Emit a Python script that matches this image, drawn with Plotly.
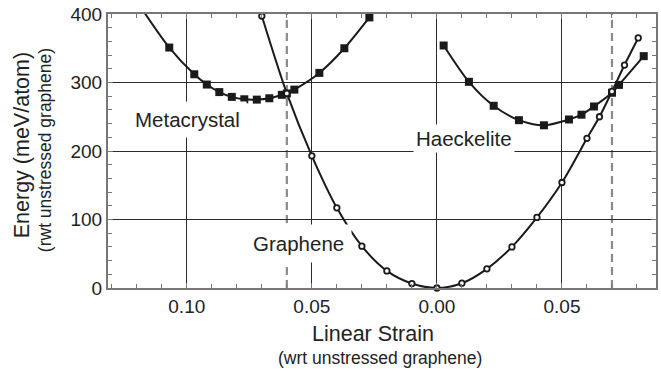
import plotly.graph_objects as go

# ---- data ----
meta_strain = [-0.107, -0.097, -0.092, -0.087, -0.082, -0.077, -0.072, -0.067,
               -0.062, -0.060, -0.057, -0.047, -0.037, -0.027]
meta_energy = [351, 312, 297, 286, 279, 275.5, 275, 277, 282, 284, 289.6, 314, 350, 395]
meta_end_strain = [-0.1175, -0.0245]
meta_end_energy = [405, 407]

graph_strain = [-0.07, -0.06, -0.05, -0.04, -0.03, -0.02, -0.01, 0.0, 0.01, 0.02,
                0.03, 0.04, 0.05, 0.06, 0.065, 0.07, 0.075, 0.0805]
graph_energy = [397, 284, 193, 117, 61, 25, 6.5, 0, 7, 28, 60, 103, 154, 218.5,
                250, 287, 325.5, 365]

haeck_strain = [0.0027, 0.0128, 0.0227, 0.0328, 0.0428, 0.0528, 0.0578, 0.0628,
                0.070, 0.0728, 0.0827]
haeck_energy = [354, 301, 266, 245, 237.5, 246, 253, 265, 285, 296.5, 338.5]

crossing_strains = [-0.06, 0.07]

x_tickvals = [-0.10, -0.05, 0.00, 0.05]
x_ticktext = ["0.10", "0.05", "0.00", "0.05"]
y_tickvals = [0, 100, 200, 300, 400]

labels = [("Metacrystal", -0.0997, 246, 6),
          ("Haeckelite", 0.0110, 218.5, 2),
          ("Graphene", -0.0552, 65, 7)]

INK = "#1a1a1a"
FONT = "Liberation Sans, Arial, Helvetica, sans-serif"

fig = go.Figure()

# Metacrystal
fig.add_trace(go.Scatter(
    x=[meta_end_strain[0]] + meta_strain + [meta_end_strain[1]],
    y=[meta_end_energy[0]] + meta_energy + [meta_end_energy[1]],
    mode="lines", line=dict(color=INK, width=2, shape="spline", smoothing=0.8),
    showlegend=False, hoverinfo="skip"))
fig.add_trace(go.Scatter(x=meta_strain, y=meta_energy, mode="markers",
                         marker=dict(symbol="square", size=8, color=INK),
                         cliponaxis=False, showlegend=False))
# Haeckelite
fig.add_trace(go.Scatter(x=haeck_strain, y=haeck_energy, mode="lines",
                         line=dict(color=INK, width=2, shape="spline", smoothing=0.8),
                         showlegend=False, hoverinfo="skip"))
fig.add_trace(go.Scatter(x=haeck_strain, y=haeck_energy, mode="markers",
                         marker=dict(symbol="square", size=8, color=INK),
                         cliponaxis=False, showlegend=False))
# Graphene
fig.add_trace(go.Scatter(x=graph_strain, y=graph_energy, mode="lines",
                         line=dict(color=INK, width=2, shape="spline", smoothing=0.8),
                         showlegend=False, hoverinfo="skip"))
fig.add_trace(go.Scatter(x=graph_strain, y=graph_energy, mode="markers",
                         marker=dict(symbol="circle", size=5.5, color="white",
                                     line=dict(color=INK, width=1.8)),
                         cliponaxis=False, showlegend=False))

for xs in crossing_strains:
    fig.add_shape(type="line", x0=xs, x1=xs, y0=0, y1=1, xref="x", yref="paper",
                  line=dict(color="#8a8a8a", width=2.2, dash="8px,5px"),
                  layer="between")

for text, lx, ly, pad in labels:
    fig.add_annotation(x=lx, y=ly, xref="x", yref="y", text=text, showarrow=False,
                       font=dict(family=FONT, size=20.5, color="#222"),
                       bgcolor="white", borderpad=pad)

# axis titles
fig.add_annotation(x=0.4836, y=-0.168, xref="paper", yref="paper", text="Linear Strain",
                   showarrow=False, xanchor="center", yanchor="middle",
                   font=dict(family=FONT, size=21.5, color="#222"))
fig.add_annotation(x=0.4955, y=-0.2555, xref="paper", yref="paper",
                   text="(wrt unstressed graphene)", showarrow=False,
                   xanchor="center", yanchor="middle",
                   font=dict(family=FONT, size=17.5, color="#222"))
fig.add_annotation(x=-0.1564, y=0.522, xref="paper", yref="paper",
                   text="Energy (meV/atom)", textangle=-90, showarrow=False,
                   xanchor="center", yanchor="middle",
                   font=dict(family=FONT, size=21.5, color="#222"))
fig.add_annotation(x=-0.1145, y=0.504, xref="paper", yref="paper",
                   text="(rwt unstressed graphene)", textangle=-90, showarrow=False,
                   xanchor="center", yanchor="middle",
                   font=dict(family=FONT, size=17.5, color="#222"))

fig.update_xaxes(range=[-0.1315, 0.0876], tickvals=x_tickvals, ticktext=x_ticktext,
                 showgrid=True, gridcolor="#2a2a2a", gridwidth=1, zeroline=False,
                 showline=True, linecolor="#777", linewidth=2, mirror="allticks",
                 ticks="inside", ticklen=5, tickcolor="#777",
                 minor=dict(dtick=0.01, tick0=0, ticks="inside", ticklen=4,
                            tickcolor="#777", showgrid=False),
                 tickfont=dict(family=FONT, size=19, color="#222"))
fig.update_yaxes(range=[0, 400], tickvals=y_tickvals,
                 showgrid=True, gridcolor="#2a2a2a", gridwidth=1, zeroline=False,
                 showline=True, linecolor="#777", linewidth=2, mirror="allticks",
                 ticks="inside", ticklen=5, tickcolor="#777",
                 minor=dict(dtick=20, tick0=0, ticks="inside", ticklen=4,
                            tickcolor="#777", showgrid=False),
                 tickfont=dict(family=FONT, size=19, color="#222"))

fig.update_layout(width=661, height=371, margin=dict(l=108, r=3, t=14, b=83),
                  paper_bgcolor="white", plot_bgcolor="white", showlegend=False,
                  hovermode=False)

# remove the default page margin so the figure fills the window exactly
fig.write_html("out.html", config={"displayModeBar": False},
               post_script="document.body.style.margin='0';")
